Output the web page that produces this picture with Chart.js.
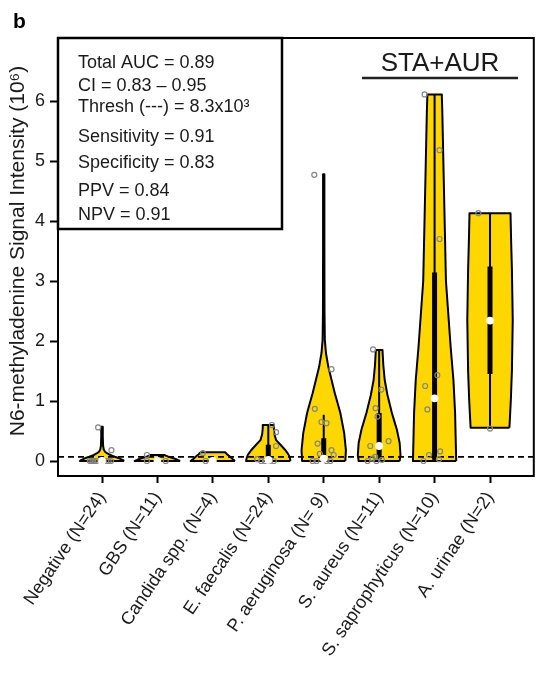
<!DOCTYPE html>
<html>
<head>
<meta charset="utf-8">
<script src="https://cdn.jsdelivr.net/npm/chart.js@4.4.1/dist/chart.umd.min.js"></script>
<style>
html,body{margin:0;padding:0;background:#fff;}
#c{display:block;}
</style>
</head>
<body>
<canvas id="c" width="539" height="676"></canvas>
<script>
// ---------- DATA (values in units of 10^6) ----------
const categories = ['Negative (N=24)', 'GBS (N=11)', 'Candida spp. (N=4)', 'E. faecalis (N=24)',
  'P. aeruginosa (N= 9)', 'S. aureus (N=11)', 'S. saprophyticus (N=10)', 'A. urinae (N=2)'];
const yTicks = [0, 1, 2, 3, 4, 5, 6];

// violin outline: signal levels and density half-widths (category units)
const violinLevels = [
  [0, 0.02, 0.045, 0.07, 0.1, 0.13, 0.155, 0.19, 0.25, 0.4, 0.57],
  [0, 0.02, 0.045, 0.07, 0.09, 0.1],
  [0, 0.03, 0.07, 0.11, 0.145],
  [0, 0.05, 0.1, 0.18, 0.27, 0.35, 0.45, 0.55, 0.6],
  [0, 0.18, 0.46, 0.8, 1.13, 1.57, 1.8, 2.02, 2.5, 3.5, 4.78],
  [0, 0.1, 0.3, 0.52, 0.8, 1.1, 1.35, 1.6, 1.85],
  [0, 0.8, 1.35, 1.9, 3.0, 4.7, 5.8, 6.11],
  [0.555, 1.0, 1.5, 2.35, 3.2, 3.7, 4.13]
];
const violinWidths = [
  [0.40, 0.37, 0.31, 0.23, 0.15, 0.09, 0.055, 0.032, 0.02, 0.014, 0.014],
  [0.41, 0.36, 0.29, 0.2, 0.15, 0.13],
  [0.40, 0.36, 0.31, 0.26, 0.22],
  [0.40, 0.39, 0.37, 0.31, 0.22, 0.14, 0.11, 0.10, 0.10],
  [0.39, 0.40, 0.37, 0.30, 0.20, 0.083, 0.04, 0.02, 0.014, 0.012, 0.012],
  [0.37, 0.385, 0.37, 0.32, 0.23, 0.15, 0.10, 0.075, 0.06],
  [0.39, 0.37, 0.34, 0.29, 0.205, 0.165, 0.14, 0.13],
  [0.35, 0.375, 0.395, 0.41, 0.395, 0.38, 0.37]
];

// box plot statistics
const medians   = [0, 0, 0, 0.02, 0.04, 0.25, 1.045, 2.34];
const q1        = [0, 0, 0, 0.0, 0.0, 0.03, 0.02, 1.45];
const q3        = [0, 0, 0, 0.27, 0.38, 0.8, 3.14, 3.24];
const whiskLow  = [0, 0, 0, 0.0, 0.0, 0.0, 0.0, 0.555];
const whiskHigh = [0, 0, 0, 0.6, 0.77, 1.85, 6.11, 4.13];

// individual samples and their horizontal jitter
const sampleValues = [
  [0.56, 0.18, 0, 0, 0, 0, 0, 0, 0, 0],
  [0.1, 0, 0],
  [0.13, 0],
  [0.6, 0.48, 0.25, 0.03, 0, 0, 0, 0],
  [4.77, 1.53, 0.87, 0.65, 0.63, 0.29, 0.18, 0.12, 0.1, 0, 0, 0, 0],
  [1.86, 1.19, 0.88, 0.74, 0.33, 0.25, 0.07, 0.04, 0.02, 0, 0],
  [6.11, 5.18, 3.7, 1.43, 1.25, 0.86, 0.16, 0.1, 0.03, 0],
  [4.13, 0.54]
];
const sampleJitter = [
  [-0.07, 0.17, -0.22, -0.19, -0.16, -0.13, -0.1, 0.08, 0.12, 0.16],
  [-0.19, -0.19, 0.15],
  [-0.18, -0.13],
  [0.065, 0.14, 0.14, -0.2, -0.13, -0.06, 0.03, 0.1],
  [-0.17, 0.14, -0.16, -0.04, 0.05, -0.11, 0.14, -0.07, 0.18, -0.2, -0.13, 0.05, 0.12],
  [-0.11, 0.04, -0.065, -0.03, 0.17, -0.16, -0.07, -0.12, 0.05, -0.21, -0.05],
  [-0.18, 0.09, 0.09, 0.05, -0.17, -0.13, 0.1, -0.1, 0.08, -0.2],
  [-0.21, 0.0]
];

const threshold = 0.07;
const statLines = ['Total AUC = 0.89', 'CI = 0.83 \u2013 0.95', 'Thresh (---) = 8.3x10\u00B3',
  'Sensitivity = 0.91', 'Specificity = 0.83', 'PPV = 0.84', 'NPV = 0.91'];
const groupLabel = 'STA+AUR';
const yTitle = 'N6-methyladenine Signal Intensity (10\u2076)';
const panelLetter = 'b';

// ---------- STYLE ----------
const FONT = "'Liberation Sans', Arial, Helvetica, sans-serif";
const GOLD = '#FFD700';
const X_MIN = -0.794, X_MAX = 7.79, Y_MIN = -0.25, Y_MAX = 7.05;

// ---------- DATASETS ----------
const datasets = [];
categories.forEach((c, i) => {
  const lv = violinLevels[i], w = violinWidths[i];
  const pts = [];
  for (let k = 0; k < lv.length; k++) pts.push({x: i + w[k], y: lv[k]});
  for (let k = lv.length - 1; k >= 0; k--) pts.push({x: i - w[k], y: lv[k]});
  pts.push({x: i + w[0], y: lv[0]});
  datasets.push({type: 'line', data: pts, showLine: true, fill: 'shape', backgroundColor: GOLD,
    borderColor: '#000', borderWidth: 2, pointRadius: 0, tension: 0.0001, order: 50,
    borderJoinStyle: 'round', capBezierPoints: true});
});
datasets.push({type: 'line', data: [{x: X_MIN, y: threshold}, {x: X_MAX, y: threshold}], borderColor: '#000',
  borderWidth: 1.8, borderDash: [6, 4], pointRadius: 0, fill: false, order: 40});
categories.forEach((c, i) => {
  if (whiskHigh[i] > whiskLow[i]) {
    datasets.push({type: 'line', data: [{x: i, y: whiskLow[i]}, {x: i, y: whiskHigh[i]}], borderColor: '#000',
      borderWidth: 2, pointRadius: 0, fill: false, order: 30, tension: 0.0001});
  }
  if (q3[i] > q1[i]) {
    datasets.push({type: 'line', data: [{x: i, y: q1[i]}, {x: i, y: q3[i]}], borderColor: '#000',
      borderWidth: 5, pointRadius: 0, fill: false, order: 20, borderCapStyle: 'butt', tension: 0.0001});
  }
  datasets.push({type: 'scatter', data: sampleValues[i].map((v, k) => ({x: i + sampleJitter[i][k], y: v})),
    pointRadius: 2.5, pointBorderColor: '#858585', pointBackgroundColor: 'rgba(0,0,0,0)', pointBorderWidth: 1.2,
    order: 10, clip: false});
});
datasets.push({type: 'scatter', data: medians.map((m, i) => ({x: i, y: m})), pointRadius: 3.9,
  pointBackgroundColor: '#fff', pointBorderWidth: 0, pointBorderColor: '#fff', order: 0, clip: false});

// ---------- PLUGINS ----------
const decor = {
  id: 'decor',
  afterDraw(chart) {
    const ctx = chart.ctx, a = chart.chartArea;
    ctx.save();
    // frame
    ctx.strokeStyle = '#000'; ctx.lineWidth = 2;
    ctx.strokeRect(a.left, a.top, a.right - a.left, a.bottom - a.top);
    // stats box
    const bx0 = a.left, by0 = a.top, bx1 = 282, by1 = 229;
    ctx.fillStyle = '#fff';
    ctx.fillRect(bx0, by0, bx1 - bx0, by1 - by0);
    ctx.lineWidth = 2.5;
    ctx.strokeRect(bx0, by0, bx1 - bx0, by1 - by0);
    ctx.fillStyle = '#1a1a1a';
    ctx.font = '18px ' + FONT;
    ctx.textAlign = 'left'; ctx.textBaseline = 'alphabetic';
    const bases = [68, 90.5, 111.5, 141.5, 167.5, 196, 220];
    statLines.forEach((t, k) => ctx.fillText(t, 78, bases[k]));
    // group label
    ctx.font = '26px ' + FONT;
    ctx.textAlign = 'center';
    ctx.fillText(groupLabel, 440, 71);
    ctx.beginPath(); ctx.lineWidth = 2.5; ctx.strokeStyle = '#222';
    ctx.moveTo(362, 78); ctx.lineTo(518, 78); ctx.stroke();
    // panel letter
    ctx.font = 'bold 21px ' + FONT;
    ctx.textAlign = 'left'; ctx.fillStyle = '#000';
    ctx.fillText(panelLetter, 13, 28);
    // y title
    ctx.translate(18.5, 251);
    ctx.rotate(-Math.PI / 2);
    ctx.font = '21px ' + FONT;
    ctx.textAlign = 'center'; ctx.textBaseline = 'middle';
    ctx.fillStyle = '#1a1a1a';
    ctx.fillText(yTitle, 0, 0);
    ctx.restore();
  }
};

new Chart(document.getElementById('c'), {
  type: 'scatter',
  data: {datasets},
  plugins: [decor],
  options: {
    responsive: false, animation: false, devicePixelRatio: 1,
    layout: {padding: {top: 38, right: 2, left: 0, bottom: 0}},
    plugins: {legend: {display: false}, tooltip: {enabled: false}},
    scales: {
      x: {
        type: 'linear', min: X_MIN, max: X_MAX,
        afterBuildTicks: s => { s.ticks = categories.map((c, i) => ({value: i})); },
        afterFit: s => { s.height = 200; },
        ticks: {autoSkip: false, minRotation: 56, maxRotation: 56, padding: 5, color: '#1a1a1a',
          font: {family: FONT, size: 18}, callback: v => categories[v]},
        grid: {display: true, drawOnChartArea: false, drawTicks: true, tickLength: 7, tickWidth: 2, tickColor: '#000'},
        border: {display: true, color: '#000', width: 2}
      },
      y: {
        type: 'linear', min: Y_MIN, max: Y_MAX,
        afterBuildTicks: s => { s.ticks = yTicks.map(v => ({value: v})); },
        afterFit: s => { s.width = 58; },
        ticks: {padding: 5, color: '#1a1a1a', font: {family: FONT, size: 18}},
        grid: {display: true, drawOnChartArea: false, drawTicks: true, tickLength: 8, tickWidth: 2, tickColor: '#000'},
        border: {display: true, color: '#000', width: 2}
      }
    }
  }
});
</script>
</body>
</html>
